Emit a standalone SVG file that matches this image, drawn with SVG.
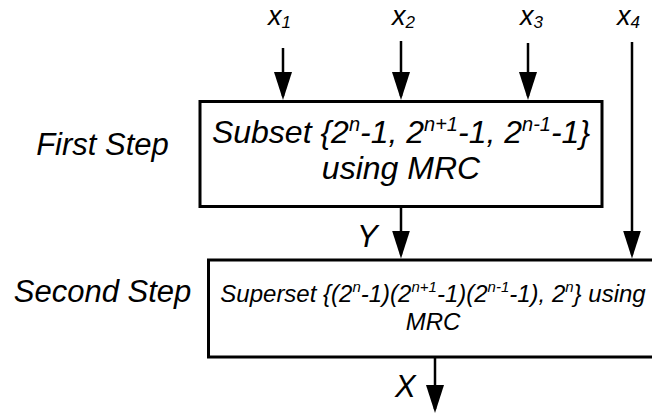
<svg xmlns="http://www.w3.org/2000/svg" width="652" height="418" viewBox="0 0 652 418">
<style>
  text { font-family: "Liberation Sans", Arial, sans-serif; font-style: italic; fill: #000; }
  .box { fill: #fff; stroke: #000; stroke-width: 3; }
  .wire { stroke: #000; stroke-width: 2.5; fill: none; marker-end: url(#ah); }
  .big { font-size: 32px; }
  .sup1 { font-size: 20px; }
  .mid { font-size: 24px; }
  .sup2 { font-size: 15px; }
  .lbl { font-size: 31px; }
  .var { font-size: 27px; }
  .sub { font-size: 17px; }
</style>
<defs>
  <marker id="ah" markerUnits="userSpaceOnUse" markerWidth="28" markerHeight="18" viewBox="0 0 28 18" refX="24" refY="9" orient="auto">
    <path d="M0,0 L28,9 L0,18 Z" fill="#000"/>
  </marker>
</defs>

<g id="labels">
  <text class="lbl" x="102.5" y="155" text-anchor="middle">First Step</text>
  <text class="lbl" x="102.5" y="302" text-anchor="middle">Second Step</text>
</g>

<g id="in-x1"><text class="var" x="268" y="25">x<tspan class="sub" dy="3">1</tspan></text></g>
<g id="in-x2"><text class="var" x="392" y="25">x<tspan class="sub" dy="3">2</tspan></text></g>
<g id="in-x3"><text class="var" x="520" y="25">x<tspan class="sub" dy="3">3</tspan></text></g>
<g id="in-x4"><text class="var" x="617" y="25">x<tspan class="sub" dy="3">4</tspan></text></g>

<g id="first-step">
  <rect class="box" x="200" y="101.5" width="402" height="105"/>
  <text class="big" x="401" y="143" text-anchor="middle">Subset {2<tspan class="sup1" dy="-12">n</tspan><tspan dy="12">-1, 2</tspan><tspan class="sup1" dy="-12">n+1</tspan><tspan dy="12">-1, 2</tspan><tspan class="sup1" dy="-12">n-1</tspan><tspan dy="12">-1}</tspan></text>
  <text class="big" x="401" y="179" text-anchor="middle">using MRC</text>
</g>

<g id="second-step">
  <rect class="box" x="208.5" y="260" width="460" height="97"/>
  <text class="mid" x="433" y="301.5" text-anchor="middle">Superset {(2<tspan class="sup2" dy="-10">n</tspan><tspan dy="10">-1)(2</tspan><tspan class="sup2" dy="-10">n+1</tspan><tspan dy="10">-1)(2</tspan><tspan class="sup2" dy="-10">n-1</tspan><tspan dy="10">-1), 2</tspan><tspan class="sup2" dy="-10">n</tspan><tspan dy="10">} using</tspan></text>
  <text class="mid" x="433" y="330" text-anchor="middle">MRC</text>
</g>

<g id="connectors">
  <line class="wire" x1="283" y1="48" x2="283" y2="96"/>
  <line class="wire" x1="401" y1="41" x2="401" y2="96"/>
  <line class="wire" x1="528" y1="43" x2="528" y2="96"/>
  <line class="wire" x1="632" y1="42" x2="632" y2="254.5"/>
  <line class="wire" x1="401" y1="208" x2="401" y2="254.5"/>
  <line class="wire" x1="435" y1="358" x2="435" y2="409"/>
  <text class="lbl" x="357" y="247">Y</text>
  <text class="lbl" x="395" y="397">X</text>
</g>
</svg>
